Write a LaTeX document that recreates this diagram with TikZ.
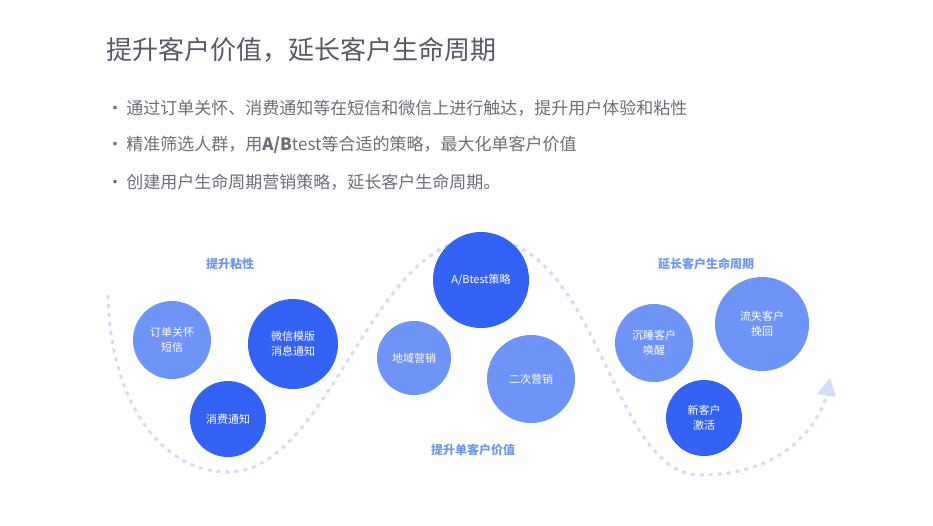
\documentclass[tikz,border=0pt]{standalone}
\usepackage{fontspec}
\setmainfont{Noto Sans CJK SC}
\begin{document}
\begin{tikzpicture}[x=1pt,y=-1pt,
  dk/.style={circle,fill=c1,text=white,font=\fontsize{11}{15}\selectfont,align=center,inner sep=0pt},
  lt/.style={circle,fill=c2,text=white,font=\fontsize{11}{15}\selectfont,align=center,inner sep=0pt},
  lab/.style={text=c3,font=\fontsize{12}{14}\selectfont\bfseries},
  bul/.style={anchor=west,text=g2,font=\fontsize{17}{19}\selectfont}]
\definecolor{c1}{HTML}{3462F5}
\definecolor{c2}{HTML}{6D94F6}
\definecolor{c3}{HTML}{7196EE}
\definecolor{wv}{HTML}{D2DEFA}
\definecolor{g1}{HTML}{555A66}
\definecolor{g2}{HTML}{6A6E78}
\useasboundingbox (0,0) rectangle (933,525);
\draw[wv,line width=3pt,dash pattern=on 4pt off 5pt]
  (108,295) .. controls (110,400) and (160,472) .. (228,472)
  .. controls (330,472) and (370,238) .. (481,238)
  .. controls (600,238) and (610,475) .. (700,475)
  .. controls (780,475) and (815,430) .. (826,398);
\fill[wv] (830,378) -- (836,397) -- (817,394) -- cycle;
\node[anchor=west,text=g1,font=\fontsize{26}{28}\selectfont] (t) at (103,50) {提升客户价值，延长客户生命周期};
\node[bul] (b1) at (103,108) {•\,通过订单关怀、消费通知等在短信和微信上进行触达，提升用户体验和粘性};
\node[bul] (b2) at (103,145) {•\,精准筛选人群，用\textbf{A/B}test等合适的策略，最大化单客户价值};
\node[bul] (b3) at (103,182) {•\,创建用户生命周期营销策略，延长客户生命周期。};
\node[lab] (l1) at (230,264) {提升粘性};
\node[lab] (l2) at (706,264) {延长客户生命周期};
\node[lab] (l3) at (473,450) {提升单客户价值};
\node[lt,minimum size=78pt] (a) at (172,340) {订单关怀\\短信};
\node[dk,minimum size=90pt] (b) at (293,344) {微信模版\\消息通知};
\node[dk,minimum size=76pt] (c) at (228,419) {消费通知};
\node[dk,minimum size=96pt] (d) at (481,280) {A/Btest策略};
\node[lt,minimum size=74pt] (e) at (414,358) {地域营销};
\node[lt,minimum size=88pt] (f) at (531,379) {二次营销};
\node[lt,minimum size=78pt] (g) at (654,343) {沉睡客户\\唤醒};
\node[lt,minimum size=94pt] (h) at (762,324) {流失客户\\挽回};
\node[dk,minimum size=76pt] (i) at (704,418) {新客户\\激活};
\end{tikzpicture}
\end{document}
